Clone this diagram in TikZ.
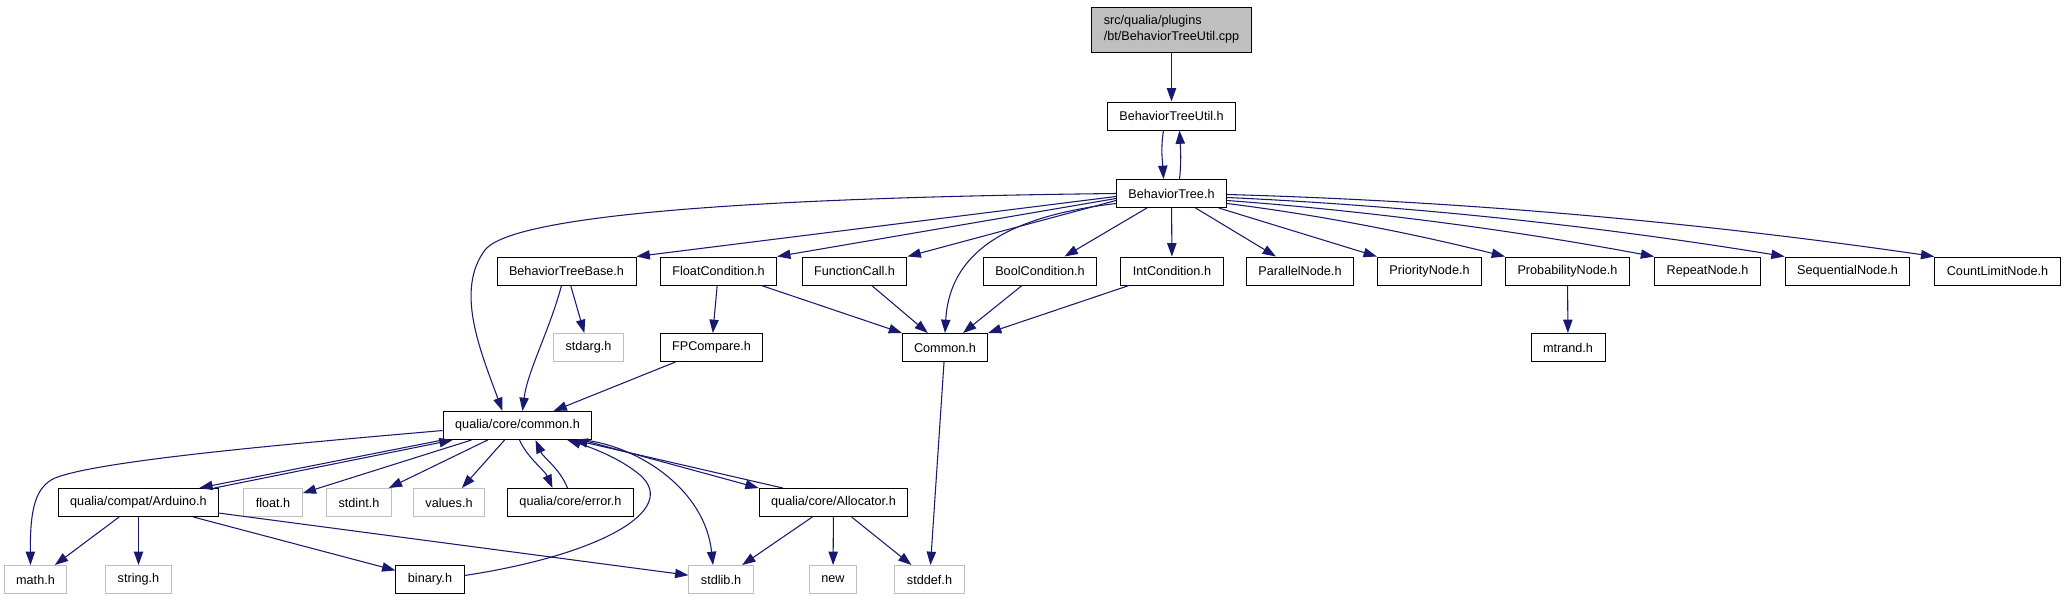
\documentclass[tikz,border=0pt]{standalone}
\usepackage{fontspec}
\setmainfont{Liberation Sans}
\usepackage{xcolor}
\usepackage{tikz}
\usetikzlibrary{arrows.meta, positioning, calc}

\definecolor{edgeblue}{RGB}{25,25,112}
\definecolor{sysgray}{RGB}{191,191,191}

\begin{document}
\begin{tikzpicture}[
    x=0.75pt, y=-0.75pt,
    font=\fontsize{9.5}{12}\selectfont,
    box/.style={rectangle, draw, line width=0.75pt, minimum height=21pt, inner xsep=9pt, inner ysep=2pt, align=center, fill=white},
    sysbox/.style={box, draw=sysgray},
    srcbox/.style={box, fill=sysgray, align=left, minimum height=33.75pt},
    arrow/.style={-{Triangle[length=10pt, width=7pt]}, draw=edgeblue, line width=0.8pt}
]
    \useasboundingbox (0,0) rectangle (2065,600);

    % Nodes
    \node[srcbox] (root) at (1171.5,29.5) {src/qualia/plugins\\/bt/BehaviorTreeUtil.cpp};
    \node[box] (utilh) at (1171.5,116) {BehaviorTreeUtil.h};
    \node[box] (bt) at (1171.5,193.5) {BehaviorTree.h};

    \node[box] (btbase) at (566.5,271) {BehaviorTreeBase.h};
    \node[box] (floatc) at (718.5,271) {FloatCondition.h};
    \node[box] (funcc) at (854.5,271) {FunctionCall.h};
    \node[box] (boolc) at (1040,271) {BoolCondition.h};
    \node[box] (intc) at (1172,271) {IntCondition.h};
    \node[box] (parallel) at (1300,271) {ParallelNode.h};
    \node[box] (priority) at (1429.5,271) {PriorityNode.h};
    \node[box] (probab) at (1567.5,271) {ProbabilityNode.h};
    \node[box] (repeat) at (1707.5,271) {RepeatNode.h};
    \node[box] (sequential) at (1847.5,271) {SequentialNode.h};
    \node[box] (countlim) at (1997.5,271) {CountLimitNode.h};

    \node[sysbox] (stdarg) at (588.5,347.5) {stdarg.h};
    \node[box] (fpcomp) at (711.5,347.5) {FPCompare.h};
    \node[box] (commonu) at (945,347.5) {Common.h};
    \node[box] (mtrand) at (1568,347.5) {mtrand.h};

    \node[box] (common) at (517.5,425.5) {qualia/core/common.h};

    \node[box] (arduino) at (138.5,502.5) {qualia/compat/Arduino.h};
    \node[sysbox] (floath) at (273,502.5) {float.h};
    \node[sysbox] (stdint) at (359,502.5) {stdint.h};
    \node[sysbox] (values) at (449,502.5) {values.h};
    \node[box] (errorh) at (570.5,502.5) {qualia/core/error.h};
    \node[box] (alloc) at (833.5,502.5) {qualia/core/Allocator.h};

    \node[sysbox] (mathh) at (35.5,579.5) {math.h};
    \node[sysbox] (stringh) at (138.5,579.5) {string.h};
    \node[box] (binary) at (430,579.5) {binary.h};
    \node[sysbox] (stdlib) at (721,579.5) {stdlib.h};
    \node[sysbox] (newh) at (833,579.5) {new};
    \node[sysbox] (stddef) at (929.5,579.5) {stddef.h};

    % Arrows
    \draw[arrow] (root) -- (utilh);
    \draw[arrow] ($(utilh.south)+(-8,0)$) .. controls +(-3,18) and +(-1,-18) .. ($(bt.north)+(-8,0)$);
    \draw[arrow] ($(bt.north)+(8,0)$) .. controls +(2,-18) and +(1,18) .. ($(utilh.south)+(8,0)$);

    \draw[arrow] (bt.west) .. controls (900,196) and (520,205) .. (485,250) .. controls (455,290) and (480,350) .. ($(common.north)+(-15,0)$);
    \draw[arrow] ($(bt.west)+(0,3)$) -- (btbase.north east);
    \draw[arrow] ($(bt.west)+(0,5)$) -- (floatc.north east);
    \draw[arrow] ($(bt.west)+(0,7)$) -- (funcc.north east);
    \draw[arrow] ($(bt.west)+(0,10)$) .. controls (1020,215) and (950,245) .. (commonu.north);
    \draw[arrow] (bt) -- (boolc);
    \draw[arrow] (bt) -- (intc);
    \draw[arrow] (bt) -- (parallel);
    \draw[arrow] (bt) -- (priority.north west);
    \draw[arrow] ($(bt.east)+(0,10)$) .. controls (1319,215) and (1411,233) .. (probab.north west);
    \draw[arrow] ($(bt.east)+(0,7)$) .. controls (1369,211) and (1512,230) .. (repeat.north west);
    \draw[arrow] ($(bt.east)+(0,4)$) .. controls (1412,206) and (1598,226) .. (sequential.north west);
    \draw[arrow] ($(bt.east)+(0,1)$) .. controls (1461,201) and (1697,222) .. (countlim.north west);

    \draw[arrow] (btbase) -- (stdarg);
    \draw[arrow] ($(btbase.south)+(-5,0)$) .. controls +(-12,45) and +(5,-40) .. ($(common.north)+(5,0)$);
    \draw[arrow] (floatc) -- (fpcomp);
    \draw[arrow] (floatc) -- (commonu);
    \draw[arrow] (funcc) -- (commonu);
    \draw[arrow] (boolc) -- (commonu);
    \draw[arrow] (intc) -- (commonu);
    \draw[arrow] (probab) -- (mtrand);
    \draw[arrow] (fpcomp) -- (common);
    \draw[arrow] (commonu) -- (stddef);

    \draw[arrow] ($(common.west)+(0,5)$) .. controls (300,443) and (100,460) .. (55,478) .. controls (35,487) and (30,510) .. ($(mathh.north)+(-5,0)$);
    \draw[arrow] (common.south west) -- ($(arduino.north east)+(-20,0)$);
    \draw[arrow] ($(arduino.north east)+(-5,0)$) -- ($(common.south west)+(10,0)$);
    \draw[arrow] (common) -- (floath);
    \draw[arrow] (common) -- (stdint);
    \draw[arrow] (common) -- (values);
    \draw[arrow] ($(common.south)+(2,0)$) .. controls +(8,18) and +(-8,-18) .. ($(errorh.north)+(-18,0)$);
    \draw[arrow] ($(errorh.north)+(-3,0)$) .. controls +(-8,-20) and +(8,18) .. ($(common.south)+(18,0)$);
    \draw[arrow] ($(common.south east)+(-10,0)$) -- (alloc.north west);
    \draw[arrow] ($(alloc.north west)+(24,0)$) -- ($(common.south east)+(-18,0)$);
    \draw[arrow] ($(common.south east)+(-8,0)$) .. controls (640,447) and (705,490) .. ($(stdlib.north)+(-8,0)$);

    \draw[arrow] (arduino) -- (mathh);
    \draw[arrow] (arduino) -- (stringh);
    \draw[arrow] (arduino) -- (binary);
    \draw[arrow] (arduino) -- (stdlib);
    \draw[arrow] ($(binary.east)+(0,-4)$) .. controls (600,555) and (680,510) .. (640,475) .. controls (620,458) and (590,447) .. ($(common.south east)+(-25,0)$);
    \draw[arrow] (alloc) -- (stdlib);
    \draw[arrow] (alloc) -- (newh);
    \draw[arrow] (alloc) -- (stddef);
\end{tikzpicture}
\end{document}
